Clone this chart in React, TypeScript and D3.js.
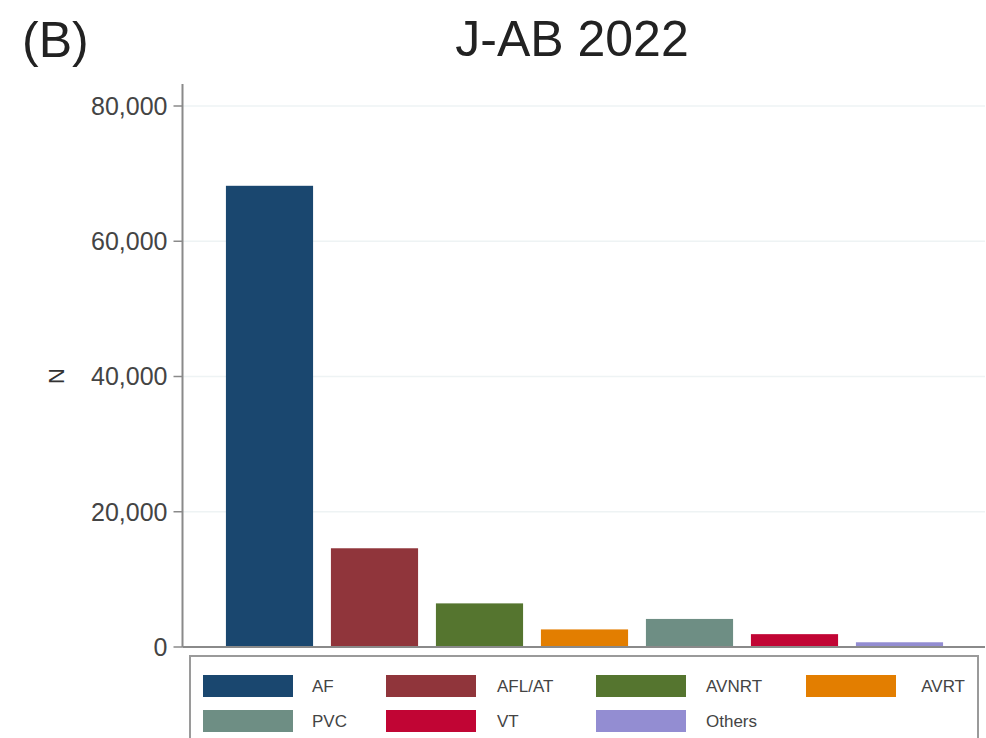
import React from "react";
import * as d3 from "d3";

const categories = ["AF", "AFL/AT", "AVNRT", "AVRT", "PVC", "VT", "Others"];
const counts = [68200, 14600, 6450, 2600, 4150, 1900, 700];
const colors = ["#1a476f", "#90353b", "#55752f", "#e37e00", "#6e8e84", "#c10534", "#938dd2"];
const yTicks = [0, 20000, 40000, 60000, 80000];
const title = "J-AB 2022";
const panelLabel = "(B)";
const yLabel = "N";

export default function App() {
  const W = 986, H = 738;
  const axisX = 182.5;
  const plotRight = 985;
  const x = d3.scaleBand<string>().domain(categories).range([217, 952]).paddingInner(0.17).paddingOuter(0.085);
  const y = d3.scaleLinear().domain([0, 80000]).range([647, 106]);
  const fmt = d3.format(",");
  const font = "'Liberation Sans', Arial, sans-serif";

  const legendCols = [203, 386, 596, 806];
  const legendRows = [686, 721];
  const legendTextX = [312, 497, 706, 965];

  return (
    <div style={{ position: "fixed", left: 0, top: 0 }}>
      <svg width={W} height={H} style={{ display: "block", background: "#fff" }}>
        <text x={22} y={57} fontFamily={font} fontSize={50} fill="#222">{panelLabel}</text>
        <text x={572} y={56} textAnchor="middle" fontFamily={font} fontSize={50} fill="#222">{title}</text>

        {yTicks.filter(t => t > 0).map(t => (
          <line key={"g" + t} x1={axisX} x2={plotRight} y1={y(t)} y2={y(t)} stroke="#eef3f4" strokeWidth={1.5} />
        ))}

        {categories.map((c, i) => (
          <rect key={c} x={x(c)} y={y(counts[i])} width={x.bandwidth()} height={y(0) - y(counts[i])} fill={colors[i]} />
        ))}

        <line x1={axisX} x2={axisX} y1={84} y2={y(0)} stroke="#8a8a8a" strokeWidth={2} />
        <line x1={axisX} x2={plotRight} y1={y(0)} y2={y(0)} stroke="#8a8a8a" strokeWidth={2} />
        {yTicks.map(t => (
          <g key={"t" + t}>
            <line x1={axisX - 9} x2={axisX} y1={y(t)} y2={y(t)} stroke="#8a8a8a" strokeWidth={1.5} />
            <text x={axisX - 15} y={y(t)} dy="0.35em" textAnchor="end" fontFamily={font} fontSize={25} fill="#444">{fmt(t)}</text>
          </g>
        ))}
        <text transform={`translate(64,376) rotate(-90)`} textAnchor="middle" fontFamily={font} fontSize={22} fill="#333">{yLabel}</text>

        <rect x={190} y={656} width={788} height={100} fill="#fff" stroke="#9a9a9a" strokeWidth={2} />
        {categories.map((c, i) => {
          const col = i % 4, row = Math.floor(i / 4);
          const last = col === 3;
          return (
            <g key={"l" + c}>
              <rect x={legendCols[col]} y={legendRows[row] - 11} width={90} height={22} fill={colors[i]} />
              <text x={legendTextX[col]} y={legendRows[row]} dy="0.35em" textAnchor={last ? "end" : "start"} fontFamily={font} fontSize={17} fill="#444">{c}</text>
            </g>
          );
        })}
      </svg>
    </div>
  );
}
